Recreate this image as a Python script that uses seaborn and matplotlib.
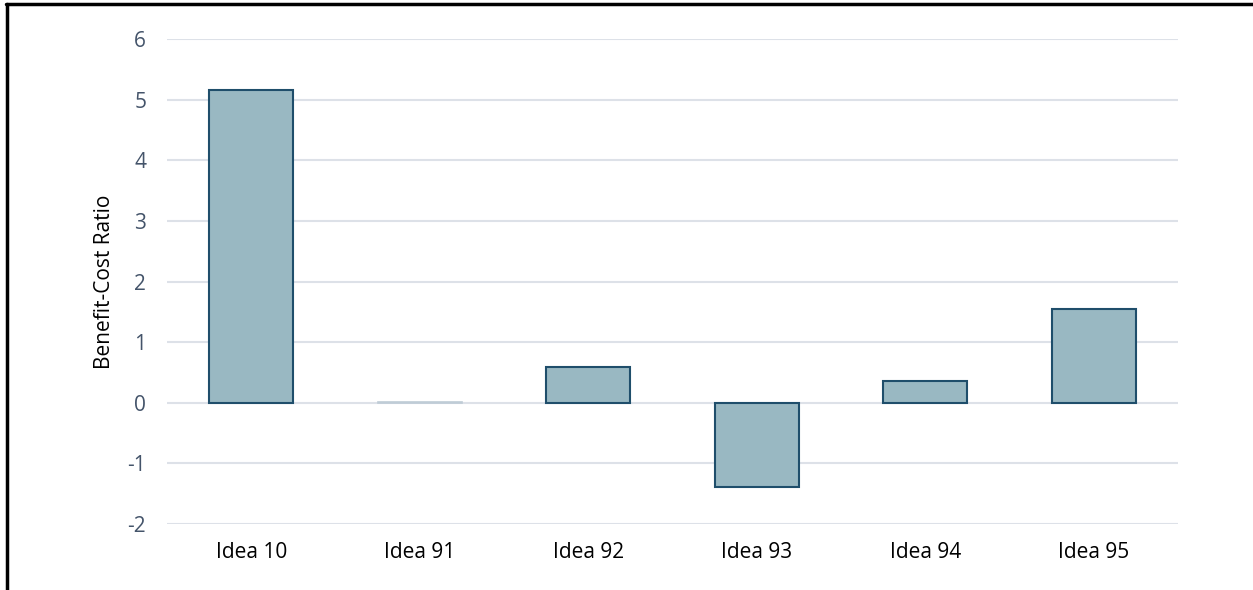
import matplotlib
matplotlib.use("Agg")
import matplotlib.pyplot as plt
import seaborn as sns
import pandas as pd
from matplotlib.lines import Line2D

categories = ["Idea 10", "Idea 91", "Idea 92", "Idea 93", "Idea 94", "Idea 95"]
values = [5.16, 0.01, 0.59, -1.39, 0.36, 1.55]
yticks = [-2, -1, 0, 1, 2, 3, 4, 5, 6]
ylabel = "Benefit-Cost Ratio"

sns.set_theme(style="white")
plt.rcParams['font.family'] = ['Open Sans', 'DejaVu Sans']

df = pd.DataFrame({"idea": categories, "bcr": values})

fig = plt.figure(figsize=(12.53, 5.90), dpi=100)
ax = fig.add_axes([167/1253, 1-524/590, (1178-167)/1253, (524-39)/590])

sns.barplot(data=df, x="idea", y="bcr", ax=ax, color="#99B8C2", saturation=1,
            edgecolor="#1F4E6B", linewidth=1.5, width=0.5, zorder=3)

# very small bars render as a faint line
for p in ax.patches:
    if abs(p.get_height()) < 0.05:
        p.set_edgecolor("#BFCCD6")
        p.set_linewidth(1.2)

ax.set_ylim(-2, 6)
ax.set_yticks(yticks)
ax.set_yticklabels([str(t) for t in yticks])
ax.yaxis.grid(True, color="#DDE1E8", linewidth=1.5, zorder=0)
ax.set_axisbelow(True)
for s in ax.spines.values():
    s.set_visible(False)
ax.tick_params(axis="y", length=0, pad=15, labelsize=15, labelcolor="#44546A")
ax.tick_params(axis="x", length=0, pad=13, labelsize=15, labelcolor="#000000")
ax.set_xlabel("")
ax.set_ylabel(ylabel, fontsize=15, color="#000000", labelpad=9)

# outer border (top and left visible)
fig.add_artist(Line2D([6.5/1253, 6.5/1253], [0, 1-3.5/590], transform=fig.transFigure,
                      color="black", linewidth=2.5))
fig.add_artist(Line2D([5.5/1253, 1], [1-3.5/590, 1-3.5/590], transform=fig.transFigure,
                      color="black", linewidth=2.5))

fig.savefig("out.png", dpi=100)
